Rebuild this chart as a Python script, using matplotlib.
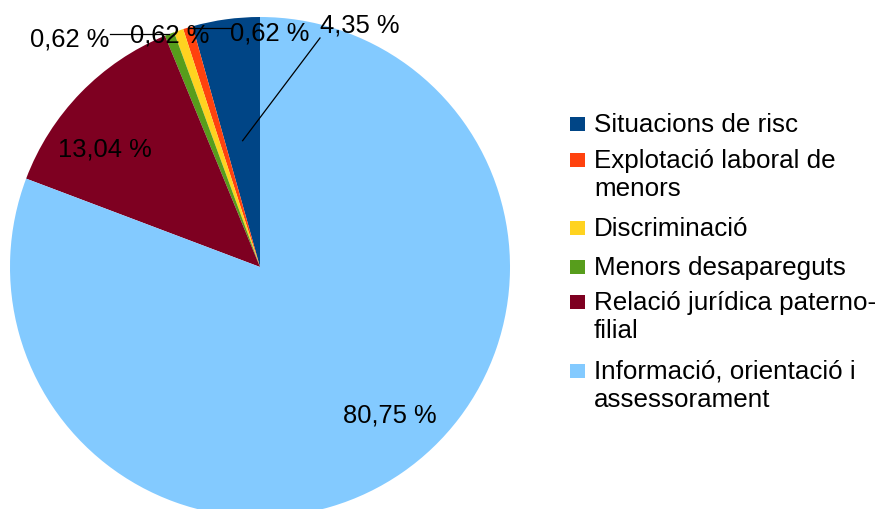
import numpy as np
import matplotlib.pyplot as plt
from matplotlib.patches import Rectangle

plt.rcParams['font.family'] = ['Liberation Sans', 'DejaVu Sans']

categories = ['Situacions de risc', 'Explotació laboral de\nmenors', 'Discriminació',
              'Menors desapareguts', 'Relació jurídica paterno-\nfilial',
              'Informació, orientació i\nassessorament']
values = [4.35, 0.62, 0.62, 0.62, 13.04, 80.75]
value_labels = ['4,35 %', '0,62 %', '0,62 %', '0,62 %', '13,04 %', '80,75 %']
colors = ['#004586', '#ff420e', '#ffd320', '#579d1c', '#7e0021', '#83caff']


def px(x, y):
    # pixel position in the reference -> pie data coords
    return ((x - 260) / 250, (267 - y) / 250)


def main():
    W, H = 875, 509
    fig = plt.figure(figsize=(W / 100, H / 100), dpi=100)
    ax = fig.add_axes([10 / W, (H - 267 - 250) / H, 500 / W, 500 / H])
    wedges, _ = ax.pie(values, colors=colors, startangle=90, counterclock=True,
                       radius=1, wedgeprops=dict(linewidth=0))
    ax.set_xlim(-1, 1)
    ax.set_ylim(-1, 1)
    ax.set_aspect('equal')
    ax.axis('off')

    fs = 18.4
    # label positions (pixels in reference) and leader lines
    text_pos = [(360, 25), (270, 33), (170, 36), (70, 40), (105, 150), (390, 415)]
    for i, (lab, w) in enumerate(zip(value_labels, wedges)):
        tx, ty = px(*text_pos[i])
        ax.text(tx, ty, lab, ha='center', va='center', fontsize=fs, clip_on=False)

    def edge(w, r=1.0):
        a = np.deg2rad((w.theta1 + w.theta2) / 2)
        return r * np.cos(a), r * np.sin(a)

    lw = 0.9
    # 4,35 %
    x0, y0 = edge(wedges[0], 0.51)
    x1, y1 = px(320, 38)
    ax.plot([x0, x1], [y0, y1], color='black', lw=lw, clip_on=False)
    # Explotació
    x0, y0 = edge(wedges[1])
    x1, _ = px(231, 28)
    ax.plot([x0, x1], [y0, y0], color='black', lw=lw, clip_on=False)
    # Menors desapareguts
    x0, y0 = edge(wedges[3])
    x1, _ = px(110, 35)
    ax.plot([x0, x1], [y0, y0], color='black', lw=lw, clip_on=False)

    # legend (first-line baselines in pixels)
    baselines = [132, 168, 236, 275, 310, 379]
    for lab, c, y in zip(categories, colors, baselines):
        fig.patches.append(Rectangle((570 / W, 1 - (y - 1) / H), 15 / W, 14 / H,
                                     facecolor=c, edgecolor='none',
                                     transform=fig.transFigure))
        for j, line in enumerate(lab.split('\n')):
            fig.text(594 / W, 1 - (y + 28 * j) / H, line, ha='left', va='baseline',
                     fontsize=18.7)

    fig.savefig('out.png', dpi=100)


if __name__ == "__main__":
    main()
